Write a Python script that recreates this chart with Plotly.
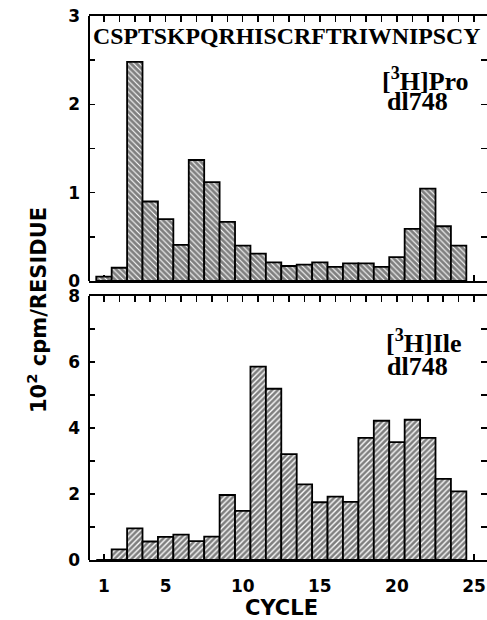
import plotly.graph_objects as go

cycles = list(range(1, 25))
pro_values = [0.05, 0.15, 2.48, 0.90, 0.70, 0.41, 1.37, 1.12, 0.67, 0.40, 0.31, 0.21,
              0.17, 0.185, 0.21, 0.16, 0.20, 0.20, 0.16, 0.27, 0.59, 1.045, 0.62, 0.40]
ile_values = [0.0, 0.32, 0.96, 0.56, 0.70, 0.77, 0.57, 0.71, 1.97, 1.49, 5.86, 5.19,
              3.21, 2.29, 1.75, 1.92, 1.76, 3.70, 4.22, 3.57, 4.25, 3.70, 2.46, 2.08]
sequence = "CSPTSKPQRHISCRFTRIWNIPSCY"
x_tick_labels = {1: "1", 5: "5", 10: "10", 15: "15", 20: "20", 25: "25"}
pro_ticks = [0, 0.5, 1, 1.5, 2, 2.5, 3]
pro_tick_labels = ["0", "", "1", "", "2", "", "3"]
ile_ticks = [0, 1, 2, 3, 4, 5, 6, 7, 8]
ile_tick_labels = ["0", "", "2", "", "4", "", "6", "", "8"]

W, H = 487, 620
ML, MR, MT, MB = 89, 0, 16, 60
PH = H - MT - MB
top_dom = [1 - (281 - MT) / PH, 1]
bot_dom = [0, 1 - (296 - MT) / PH]

def py(px):
    return (H - MB - px) / PH

def pxr(px):
    return (px - ML) / (W - ML - MR)

fig = go.Figure()
fig.add_trace(go.Bar(
    x=cycles, y=pro_values, width=1, xaxis="x", yaxis="y",
    marker=dict(color="white", line=dict(color="black", width=1.8),
                pattern=dict(shape="\\", size=4, solidity=0.72, fgcolor="black", bgcolor="white")),
    showlegend=False, hoverinfo="skip"))
fig.add_trace(go.Bar(
    x=cycles, y=ile_values, width=1, xaxis="x2", yaxis="y2",
    marker=dict(color="white", line=dict(color="black", width=1.8),
                pattern=dict(shape="/", size=4, solidity=0.66, fgcolor="black", bgcolor="white")),
    showlegend=False, hoverinfo="skip"))

all_x = list(range(1, 26))
xcommon = dict(range=[0.03, 25.84], tickmode="array", tickvals=all_x,
               ticks="inside", ticklen=6, tickwidth=1.5, tickcolor="black",
               showline=True, linecolor="black", linewidth=2, mirror="ticks",
               showgrid=False, zeroline=False, layer="below traces",
               ticklabeloverflow="allow")
ycommon = dict(ticks="inside", ticklen=6, tickwidth=1.5, tickcolor="black",
               showline=False, mirror="ticks", showgrid=False, zeroline=False,
               tickfont=dict(family="DejaVu Sans", size=17, color="black", weight="bold"),
               ticklabelstandoff=8, layer="below traces", ticklabeloverflow="allow")

fig.update_layout(
    width=W, height=H, margin=dict(l=ML, r=MR, t=MT, b=MB),
    paper_bgcolor="white", plot_bgcolor="white", bargap=0,
    xaxis=dict(**xcommon, domain=[0, 1], anchor="y", showticklabels=False),
    yaxis=dict(**ycommon, domain=top_dom, anchor="x", range=[0, 3],
               tickmode="array", tickvals=pro_ticks, ticktext=pro_tick_labels),
    xaxis2=dict(**xcommon, domain=[0, 1], anchor="y2",
                ticktext=[x_tick_labels.get(c, "") for c in all_x],
                tickfont=dict(family="DejaVu Sans", size=17, color="black", weight="bold"),
                ticklabelstandoff=10),
    yaxis2=dict(**ycommon, domain=bot_dom, anchor="x2", range=[0, 8],
                tickmode="array", tickvals=ile_ticks, ticktext=ile_tick_labels),
)

for dom in (top_dom, bot_dom):
    fig.add_shape(type="line", xref="paper", yref="paper", x0=0, x1=0, y0=dom[0], y1=dom[1],
                  line=dict(color="black", width=2))

serif = dict(family="Liberation Serif", color="black", weight="bold")
ann = [
    dict(text=sequence, x=pxr(286.5), y=py(35.5), font=dict(size=23.8, **serif), xanchor="center"),
    dict(text="[<sup>3</sup>H]Pro", x=pxr(380), y=py(79), font=dict(size=26, **serif), xanchor="left"),
    dict(text="dl748", x=pxr(385), y=py(101.5), font=dict(size=26, **serif), xanchor="left"),
    dict(text="[<sup>3</sup>H]Ile", x=pxr(384), y=py(341), font=dict(size=26, **serif), xanchor="left"),
    dict(text="dl748", x=pxr(385), y=py(366.5), font=dict(size=26, **serif), xanchor="left"),
    dict(text="CYCLE", x=pxr(281), y=py(608), font=dict(family="DejaVu Sans", size=21, color="black", weight="bold"), xanchor="center"),
    dict(text="10<sup>2</sup> cpm/RESIDUE", x=pxr(37), y=py(310), textangle=-90,
         font=dict(family="DejaVu Sans", size=21, color="black", weight="bold"), xanchor="center"),
]
for a in ann:
    fig.add_annotation(xref="paper", yref="paper", showarrow=False, yanchor="middle", **a)

fig.write_html("out.html", config={"displayModeBar": False, "staticPlot": True}, post_script=(
    "document.body.style.margin='0px';"
    "document.body.style.overflow='hidden';"
    "document.documentElement.style.overflow='hidden';"))
